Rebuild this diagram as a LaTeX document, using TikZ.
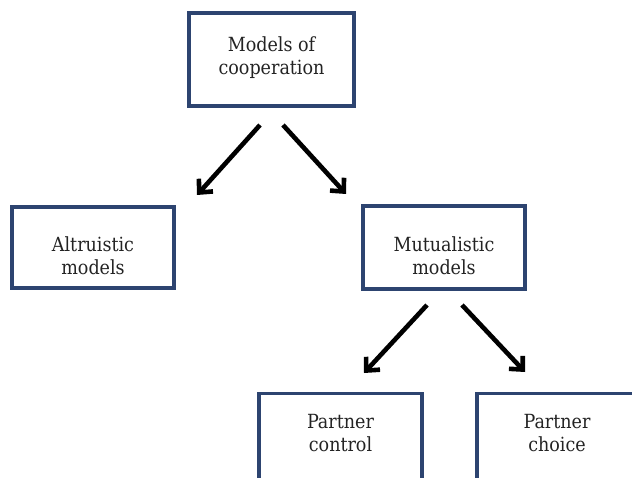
\documentclass[tikz,border=0pt]{standalone}
\usepackage{fontspec}
\setmainfont{DejaVu Serif Condensed}
\usetikzlibrary{arrows.meta}
\definecolor{boxblue}{RGB}{45,68,112}
\definecolor{txtgray}{RGB}{35,35,35}
\tikzset{
  box/.style={draw=boxblue, line width=3.2pt, fill=white, inner sep=0pt},
  txt/.style={align=center, text=txtgray, font=\fontsize{19.5pt}{23pt}\selectfont, inner sep=0pt},
  arr/.style={line width=4.6pt, -{Straight Barb[length=10pt,width=19pt,line width=4.6pt]}}
}
\begin{document}
\begin{tikzpicture}[x=1pt,y=-1pt]
\useasboundingbox (0,0) rectangle (632,478);
\clip (0,0) rectangle (632,478);
% boxes
\node[box, minimum width=165pt, minimum height=93pt] (top) at (271.5,59.5) {};
\node[txt] (toptxt) at (271.5,58) {Models of\\cooperation};
\node[box, minimum width=162pt, minimum height=81pt] (alt) at (93,247.5) {};
\node[txt] (alttxt) at (93,256) {Altruistic\\models};
\node[box, minimum width=162pt, minimum height=83pt] (mut) at (444,247.5) {};
\node[txt] (muttxt) at (444,256) {Mutualistic\\models};
\node[box, minimum width=163pt, minimum height=130pt, anchor=north] (pc) at (340.5,392) {};
\node[txt] (pctxt) at (340.5,433) {Partner\\control};
\node[box, minimum width=163pt, minimum height=130pt, anchor=north] (pch) at (558.5,392) {};
\node[txt] (pchtxt) at (557,433) {Partner\\choice};
% arrows
\coordinate (a1s) at (260,125);
\coordinate (a1e) at (197,195);
\coordinate (a2s) at (283,125);
\coordinate (a2e) at (346,194);
\coordinate (a3s) at (427,305);
\coordinate (a3e) at (364,373);
\coordinate (a4s) at (462,305);
\coordinate (a4e) at (525,372);
\draw[arr] (a1s) -- (a1e);
\draw[arr] (a2s) -- (a2e);
\draw[arr] (a3s) -- (a3e);
\draw[arr] (a4s) -- (a4e);
\end{tikzpicture}
\end{document}
